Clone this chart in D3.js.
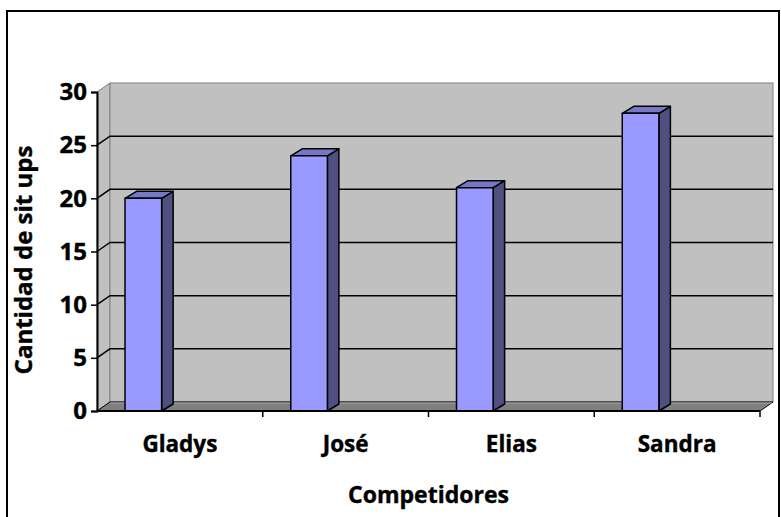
<!DOCTYPE html>
<html>
<head>
<meta charset="utf-8">
<script src="https://cdn.jsdelivr.net/npm/d3@7"></script>
<style>
body { margin: 0; background: #fff; }
svg text { font-family: "Open Sans", "DejaVu Sans", sans-serif; font-weight: bold; fill: #000; stroke: #000; stroke-width: 0.4px; }
</style>
</head>
<body>
<div id="chart"></div>
<script>
// data
let competidores = ["Gladys", "José", "Elias", "Sandra"];
let sitUps = [20, 24, 21, 28];
let yTicks = [0, 5, 10, 15, 20, 25, 30];
let xTitle = "Competidores";
let yTitle = "Cantidad de sit ups";

function drawChart(id) {
    let width = 781, height = 517;
    let plot = { left: 97, right: 760, top: 92, bottom: 411 };
    let depth = { dx: 13, dy: -9 };       // wall depth
    let barDepth = { dx: 11.5, dy: -7 };  // column depth

    let svg = d3.select(id)
	.append("svg")
	.attr("width", width)
	.attr("height", height);

    // outer frame (bottom edge runs off the picture)
    svg.append("rect")
	.attr("x", 7).attr("y", 11)
	.attr("width", 772).attr("height", 540)
	.attr("fill", "none")
	.attr("stroke", "#000")
	.attr("stroke-width", 2);

    let x = d3.scaleBand()
	.domain(competidores)
	.range([plot.left, plot.right]);

    let y = d3.scaleLinear()
	.domain([0, 30])
	.range([plot.bottom, plot.top]);

    let pts = function(a) { return a.map(p => p.join(",")).join(" "); };

    // side wall
    svg.append("polygon")
	.attr("points", pts([[plot.left, y(0)], [plot.left, y(30)],
			     [plot.left + depth.dx, y(30) + depth.dy], [plot.left + depth.dx, y(0) + depth.dy]]))
	.attr("fill", "#c0c0c0")
	.attr("stroke", "#808080");

    // back wall
    svg.append("rect")
	.attr("x", plot.left + depth.dx)
	.attr("y", y(30) + depth.dy)
	.attr("width", plot.right - plot.left)
	.attr("height", y(0) - y(30))
	.attr("fill", "#c0c0c0")
	.attr("stroke", "#808080");

    // gridlines on back + side walls
    let inner = yTicks.filter(v => v > 0 && v < 30);
    svg.append("g")
	.selectAll("polyline")
	.data(inner)
	.join("polyline")
	.attr("points", v => pts([[plot.left, y(v)], [plot.left + depth.dx, y(v) + depth.dy],
				  [plot.right + depth.dx, y(v) + depth.dy]]))
	.attr("fill", "none")
	.attr("stroke", "#000")
	.attr("stroke-width", 1.5);

    // floor
    svg.append("polygon")
	.attr("points", pts([[plot.left, y(0)], [plot.right, y(0)],
			     [plot.right + depth.dx, y(0) + depth.dy], [plot.left + depth.dx, y(0) + depth.dy]]))
	.attr("fill", "#808080")
	.attr("stroke", "#000")
	.attr("stroke-width", 1);
    svg.append("line")
	.attr("x1", plot.left + depth.dx).attr("y1", y(0) + depth.dy + 1)
	.attr("x2", plot.right + depth.dx - 1).attr("y2", y(0) + depth.dy + 1)
	.attr("stroke", "#a8a8a8");

    // columns
    let bw = x.bandwidth();
    let bars = svg.append("g")
	.selectAll("g")
	.data(competidores.map((c, i) => ({ name: c, value: sitUps[i] })))
	.join("g")
	.attr("stroke", "#000")
	.attr("stroke-width", 1.5)
	.attr("stroke-linejoin", "round");

    let bx0 = d => x(d.name) + bw * 0.169;
    let bx1 = d => x(d.name) + bw * 0.39;

    // side face
    bars.append("polygon")
	.attr("points", d => pts([[bx1(d), y(0)], [bx1(d), y(d.value)],
				  [bx1(d) + barDepth.dx, y(d.value) + barDepth.dy], [bx1(d) + barDepth.dx, y(0) + barDepth.dy]]))
	.attr("fill", "#4f4f80");
    // top face
    bars.append("polygon")
	.attr("points", d => pts([[bx0(d), y(d.value)], [bx1(d), y(d.value)],
				  [bx1(d) + barDepth.dx, y(d.value) + barDepth.dy], [bx0(d) + barDepth.dx, y(d.value) + barDepth.dy]]))
	.attr("fill", "#7777c8");
    // front face
    bars.append("rect")
	.attr("x", bx0)
	.attr("y", d => y(d.value))
	.attr("width", d => bx1(d) - bx0(d))
	.attr("height", d => y(0) - y(d.value))
	.attr("fill", "#9999ff");

    // y-axis
    let yAxis = svg.append("g")
	.attr("transform", "translate(" + plot.left + ",0)")
	.call(d3.axisLeft(y).tickValues(yTicks).tickSize(6).tickPadding(4));
    yAxis.attr("font-size", null).attr("font-family", null);
    yAxis.select(".domain").attr("stroke-width", 2);
    yAxis.selectAll(".tick line").attr("stroke-width", 1.5);
    yAxis.selectAll("text")
	.style("font-size", "24px");

    // x-axis: ticks at category boundaries
    let xAxis = svg.append("g")
	.attr("transform", "translate(0," + plot.bottom + ")");
    xAxis.append("line")
	.attr("x1", plot.left).attr("x2", plot.right)
	.attr("stroke", "#000")
	.attr("stroke-width", 2);
    xAxis.selectAll(".xtick")
	.data(competidores.slice(1).concat(["__end"]))
	.join("line")
	.attr("class", "xtick")
	.attr("x1", d => d == "__end" ? plot.right : x(d))
	.attr("x2", d => d == "__end" ? plot.right : x(d))
	.attr("y1", 0).attr("y2", 6)
	.attr("stroke", "#000")
	.attr("stroke-width", 1.5);
    xAxis.selectAll("text")
	.data(competidores)
	.join("text")
	.attr("x", d => x(d) + bw / 2)
	.attr("y", 41)
	.attr("text-anchor", "middle")
	.style("font-size", "22.5px")
	.text(d => d);

    // axis titles
    svg.append("text")
	.attr("x", (plot.left + plot.right) / 2)
	.attr("y", 503)
	.attr("text-anchor", "middle")
	.style("font-size", "23px")
	.text(xTitle);

    svg.append("text")
	.attr("transform", "translate(32,260) rotate(-90)")
	.attr("text-anchor", "middle")
	.style("font-size", "24px")
	.text(yTitle);
}

drawChart("#chart");
</script>
</body>
</html>
